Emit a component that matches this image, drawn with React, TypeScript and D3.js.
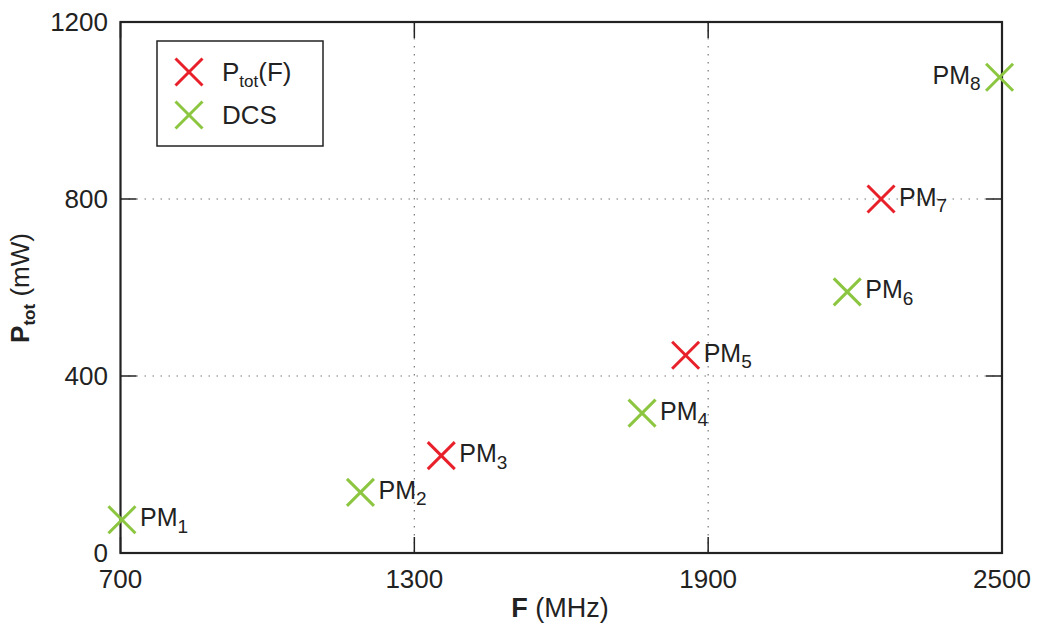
import React from "react";
import * as d3 from "d3";

const xTicks = [700, 1300, 1900, 2500];
const yTicks = [0, 400, 800, 1200];

const labels = ["1", "2", "3", "4", "5", "6", "7", "8"];
const freqs = [703, 1190, 1355, 1765, 1854, 2184, 2253, 2495];
const powers = [75, 137, 220, 316, 447, 590, 800, 1075];
const series = ["DCS", "DCS", "Ptot", "DCS", "Ptot", "DCS", "Ptot", "DCS"];

const W = 1039, H = 625;
const M = { left: 120.5, right: 1002, top: 22, bottom: 553 };
const RED = "#e8202a";
const GREEN = "#8cc641";
const FONT = "'Liberation Sans', Arial, Helvetica, sans-serif";

function Cross({ x, y, color, r = 13.5 }: { x: number; y: number; color: string; r?: number }) {
  return (
    <g stroke={color} strokeWidth={3}>
      <line x1={x - r} y1={y - r} x2={x + r} y2={y + r} />
      <line x1={x - r} y1={y + r} x2={x + r} y2={y - r} />
    </g>
  );
}

export default function App() {
  const x = d3.scaleLinear().domain([700, 2500]).range([M.left, M.right]);
  const y = d3.scaleLinear().domain([0, 1200]).range([M.bottom, M.top]);
  const tickLen = 16;
  return (
    <svg width={W} height={H} style={{ position: "absolute", left: 0, top: 0 }} fontFamily={FONT}>
      <rect width={W} height={H} fill="#fff" />
      {/* grid */}
      <g stroke="#777" strokeWidth={1.2} strokeDasharray="1.5,6.5">
        {xTicks.slice(1, -1).map((t) => (
          <line key={"gx" + t} x1={x(t)} x2={x(t)} y1={M.top} y2={M.bottom} />
        ))}
        {yTicks.slice(1, -1).map((t) => (
          <line key={"gy" + t} x1={M.left} x2={M.right} y1={y(t)} y2={y(t)} />
        ))}
      </g>
      {/* ticks */}
      <g stroke="#222" strokeWidth={1.5}>
        {xTicks.map((t) => (
          <g key={"tx" + t}>
            <line x1={x(t)} x2={x(t)} y1={M.bottom} y2={M.bottom - tickLen} />
            <line x1={x(t)} x2={x(t)} y1={M.top} y2={M.top + tickLen} />
          </g>
        ))}
        {yTicks.map((t) => (
          <g key={"ty" + t}>
            <line x1={M.left} x2={M.left + tickLen} y1={y(t)} y2={y(t)} />
            <line x1={M.right} x2={M.right - tickLen} y1={y(t)} y2={y(t)} />
          </g>
        ))}
      </g>
      <rect x={M.left} y={M.top} width={M.right - M.left} height={M.bottom - M.top} fill="none" stroke="#222" strokeWidth={2.2} />
      {/* tick labels */}
      <g fontSize={26} fill="#222">
        {xTicks.map((t) => (
          <text key={"lx" + t} x={x(t)} y={588} textAnchor="middle">{t}</text>
        ))}
        {yTicks.map((t) => (
          <text key={"ly" + t} x={108} y={y(t)} textAnchor="end" dominantBaseline="central">{t}</text>
        ))}
      </g>
      {/* axis titles */}
      <text x={560} y={617} textAnchor="middle" fontSize={27} fill="#222">
        <tspan fontWeight="bold">F</tspan> (MHz)
      </text>
      <text transform="translate(29,288) rotate(-90)" textAnchor="middle" fontSize={26} fill="#222">
        <tspan fontWeight="bold">P</tspan>
        <tspan fontWeight="bold" fontSize={17} dy={6}>tot</tspan>
        <tspan dy={-6}> (mW)</tspan>
      </text>
      {/* points */}
      {freqs.map((f, i) => {
        const cx = x(f), cy = y(powers[i]);
        const color = series[i] === "Ptot" ? RED : GREEN;
        const left = i === freqs.length - 1;
        return (
          <g key={"p" + i}>
            <Cross x={cx} y={cy} color={color} />
            <text x={left ? cx - 19 : cx + 18} y={cy + 6.5} textAnchor={left ? "end" : "start"} fontSize={25} fill="#222">
              PM<tspan fontSize={19} dy={6.5}>{labels[i]}</tspan>
            </text>
          </g>
        );
      })}
      {/* legend */}
      <rect x={157} y={41} width={166} height={105} fill="#fff" stroke="#222" strokeWidth={1.5} />
      <Cross x={189} y={72} color={RED} />
      <text x={222} y={81} fontSize={26} fill="#222">
        P<tspan fontSize={17} dy={6}>tot</tspan><tspan dy={-6}>(F)</tspan>
      </text>
      <Cross x={189} y={115} color={GREEN} />
      <text x={222} y={124} fontSize={26} fill="#222">DCS</text>
    </svg>
  );
}
